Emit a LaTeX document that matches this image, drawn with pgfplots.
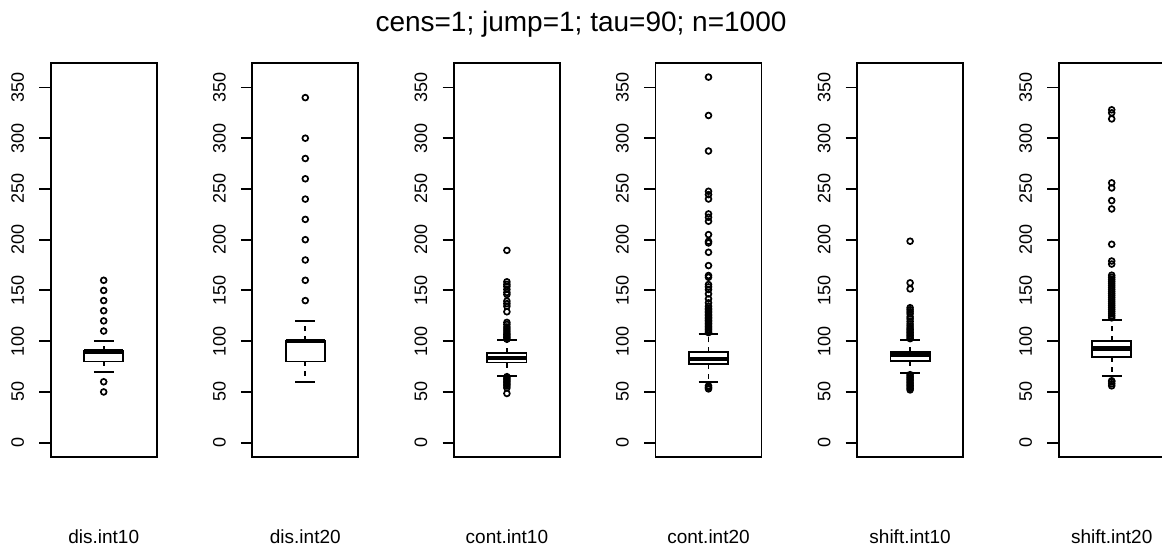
\documentclass[border=0pt]{standalone}
\usepackage{fontspec}
\setmainfont{Liberation Sans}
\usepackage{pgfplots}
\pgfplotsset{compat=1.18}

\pgfplotsset{
  panel/.style={
    scale only axis, width=106pt, height=394.6pt,
    anchor=south west,
    xmin=0.46, xmax=1.54, ymin=-14.4, ymax=374.4,
    xtick=\empty, ytick={0,50,...,350},
    ytick pos=left, ytick align=outside, major tick length=11.4pt,
    axis line style={line width=1.9pt},
    every tick/.style={black, line width=1.9pt},
    tick label style={font=\fontsize{18}{18}\selectfont},
    yticklabel style={rotate=90, anchor=south, inner sep=0pt},
    yticklabel shift=15pt,
    /pgf/number format/assume math mode=true,
    xlabel style={font=\fontsize{19}{19}\selectfont, at={(axis description cs:0.5,0)}, anchor=base, yshift=-85.7pt},
  },
  rline/.style={black, line width=1.9pt, no marks},
  rdash/.style={black, line width=1.9pt, no marks, dash pattern=on 5pt off 5pt},
  rout/.style={black, only marks, mark=o, mark size=2.9pt, mark options={solid, line width=1.7pt}},
}
% #1 lower whisker, #2 lower quartile, #3 median, #4 upper quartile, #5 upper whisker
\newcommand{\rbox}[5]{%
  \addplot[rdash] coordinates {(1,#2) (1,#1)};
  \addplot[rdash] coordinates {(1,#4) (1,#5)};
  \addplot[rline] coordinates {(0.9,#1) (1.1,#1)};
  \addplot[rline] coordinates {(0.9,#5) (1.1,#5)};
  \addplot[rline] coordinates {(0.8,#2) (1.2,#2) (1.2,#4) (0.8,#4)} -- cycle;
  \addplot[black, line width=4.5pt, no marks] coordinates {(0.8,#3) (1.2,#3)};
}

\begin{document}
\begin{tikzpicture}
\path[use as bounding box] (0pt,0pt) rectangle (1162pt,547pt);

\node[anchor=base, font=\fontsize{28}{30}\selectfont] at (581pt,515pt) {cens=1; jump=1; tau=90; n=1000};

% dis.int10
\begin{axis}[panel, at={(50.7pt,89.7pt)}, xlabel={dis.int10}]
\rbox{70}{80}{90}{90}{100}
\addplot[rout] coordinates {(1,50) (1,60) (1,110) (1,120) (1,130) (1,140) (1,150) (1,160)};
\end{axis}

% dis.int20
\begin{axis}[panel, at={(252.3pt,89.7pt)}, xlabel={dis.int20}]
\rbox{60}{80}{100}{100}{120}
\addplot[rout] coordinates {(1,140) (1,160) (1,180) (1,200) (1,220) (1,240) (1,260) (1,280) (1,300) (1,340)};
\end{axis}

% cont.int10
\begin{axis}[panel, at={(453.9pt,89.7pt)}, xlabel={cont.int10}]
\rbox{65.5}{79}{83.5}{88}{101}
\addplot[rout] coordinates {(1,48.5) (1,54) (1,56) (1,57.5) (1,59) (1,60.5) (1,62) (1,63.5) (1,65)
  (1,102) (1,103.5) (1,105) (1,106.5) (1,108) (1,110) (1,112) (1,114) (1,116.5) (1,118.5)
  (1,129) (1,134.5) (1,137) (1,139.5) (1,146) (1,148) (1,151) (1,154) (1,156) (1,158.5) (1,189.5)};
\end{axis}

% cont.int20
\begin{axis}[panel, at={(655.5pt,89.7pt)}, xlabel={cont.int20}]
\rbox{59.5}{77.5}{82.5}{89}{107}
\addplot[rout] coordinates {(1,53) (1,54.5) (1,56)
  (1,108.5) (1,110) (1,111.5) (1,113) (1,114.5) (1,116) (1,117.5) (1,119) (1,120.5) (1,122)
  (1,123.5) (1,125) (1,126.5) (1,128) (1,129.5) (1,131) (1,132.5) (1,134.5) (1,137.8) (1,141.7)
  (1,146.6) (1,150.9) (1,153.5) (1,155.8) (1,163) (1,164.7) (1,174.5) (1,187.6) (1,196.8) (1,198.4)
  (1,205) (1,218.2) (1,222.1) (1,225.4) (1,240.1) (1,244.4) (1,247.7) (1,287.4) (1,322.4) (1,360.2)};
\end{axis}

% shift.int10
\begin{axis}[panel, at={(857.1pt,89.7pt)}, xlabel={shift.int10}]
\rbox{69}{80.5}{87}{89.5}{101.5}
\addplot[rout] coordinates {(1,52) (1,53.5) (1,55) (1,56.5) (1,58) (1,59.5) (1,61) (1,62.5) (1,64) (1,65.5) (1,67)
  (1,102.5) (1,104) (1,105.5) (1,107) (1,108.5) (1,110) (1,111.5) (1,113) (1,115) (1,117) (1,119.5)
  (1,122) (1,124) (1,127) (1,129) (1,131) (1,133) (1,151.5) (1,157.5) (1,198.5)};
\end{axis}

% shift.int20
\begin{axis}[panel, at={(1058.7pt,89.7pt)}, xlabel={shift.int20}]
\rbox{65.5}{84}{93}{100}{120.5}
\addplot[rout] coordinates {(1,56) (1,58) (1,60) (1,61)
  (1,123) (1,125) (1,127) (1,129) (1,131) (1,133) (1,135) (1,137) (1,139) (1,141) (1,143) (1,145)
  (1,147) (1,149) (1,151) (1,153) (1,155) (1,157) (1,159) (1,161) (1,163) (1,165) (1,176) (1,179)
  (1,195.5) (1,230.3) (1,238.5) (1,251) (1,256) (1,319) (1,325) (1,328)};
\end{axis}
\end{tikzpicture}
\end{document}
